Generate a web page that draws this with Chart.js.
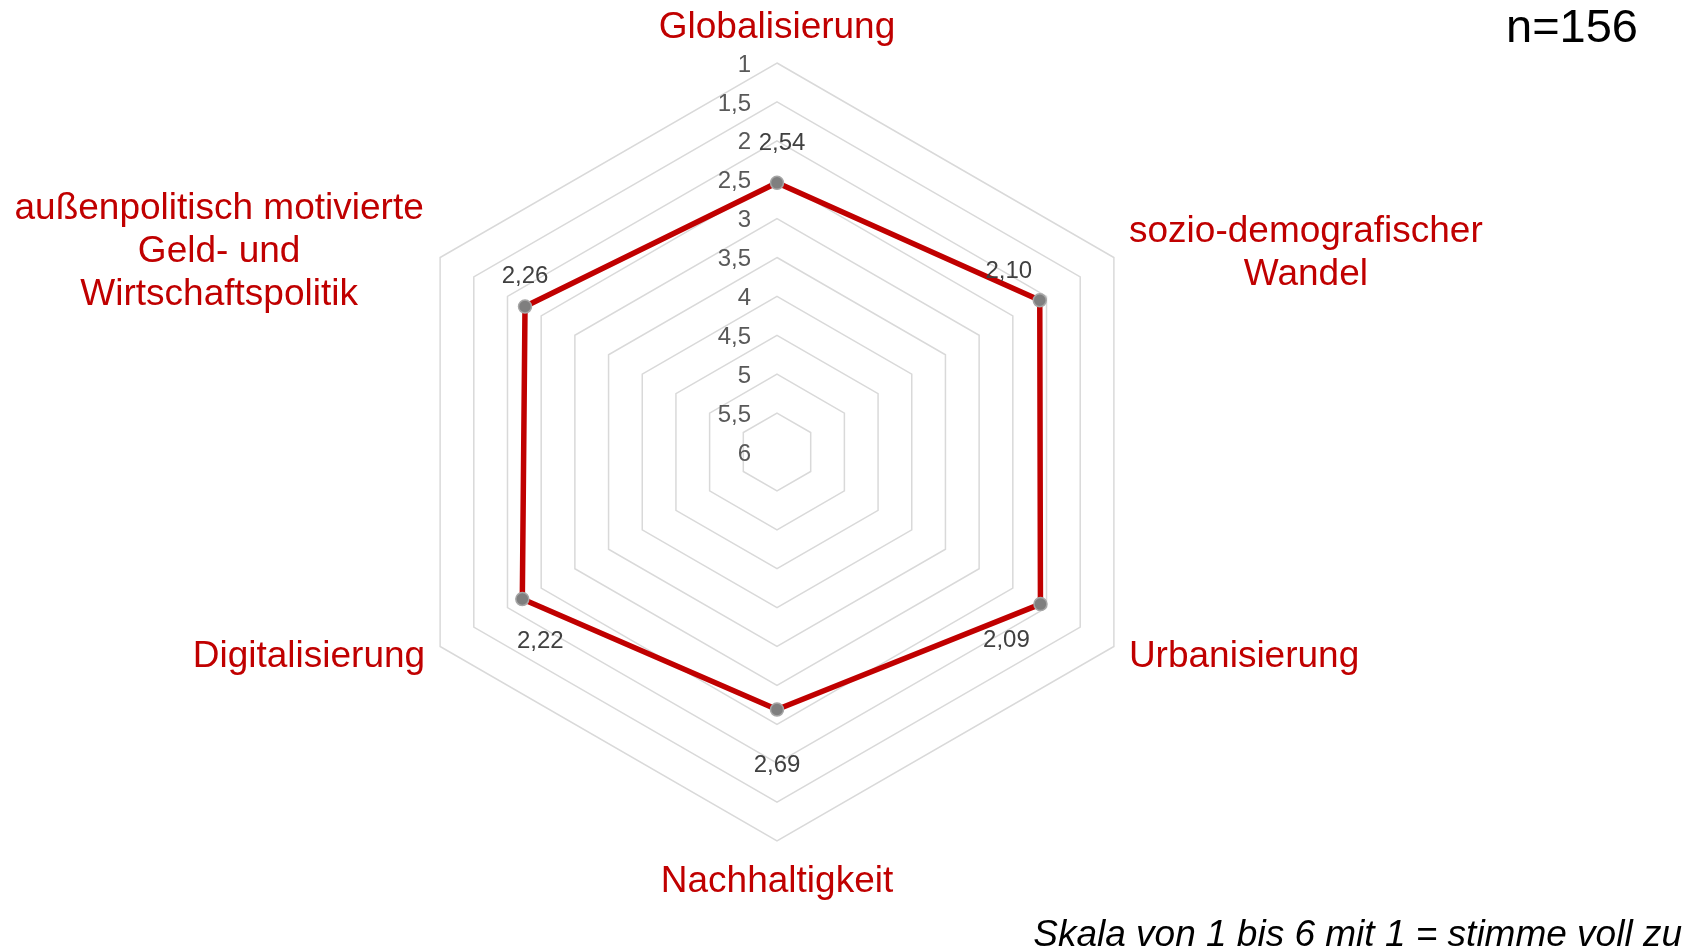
<!DOCTYPE html>
<html lang="de">
<head>
<meta charset="utf-8">
<title>Megatrends</title>
<script src="https://cdn.jsdelivr.net/npm/chart.js@4.4.1/dist/chart.umd.min.js"></script>
<style>
  html, body { margin: 0; padding: 0; background: #fff; }
</style>
</head>
<body>
<canvas id="radarChart" width="1699" height="950"></canvas>
<script>
// Daten
const categories = [
    ['Globalisierung'],
    ['sozio-demografischer', 'Wandel'],
    ['Urbanisierung'],
    ['Nachhaltigkeit'],
    ['Digitalisierung'],
    ['außenpolitisch motivierte', 'Geld- und', 'Wirtschaftspolitik']
];
const values = [2.54, 2.10, 2.09, 2.69, 2.22, 2.26];
const tickValues = [1, 1.5, 2, 2.5, 3, 3.5, 4, 4.5, 5, 5.5, 6];
const sampleNote = 'n=156';
const scaleNote = 'Skala von 1 bis 6 mit 1 = stimme voll zu';

const FONT = '"Liberation Sans", Arial, sans-serif';
const fmt = (v, d) => (d ? v.toFixed(d) : String(v)).replace('.', ',');

// Lage der Achsenbeschriftungen relativ zur äußeren Ecke
const labelPos = [
    { align: 'center', dx: 0,    dy: -25 },
    { align: 'center', dx: 192,  dy: -16 },
    { align: 'left',   dx: 15,   dy: 20 },
    { align: 'center', dx: 0,    dy: 51 },
    { align: 'right',  dx: -15,  dy: 20 },
    { align: 'center', dx: -221, dy: -39 }
];
// Lage der Datenbeschriftungen relativ zum Punkt
const valuePos = [
    { dx: 5,   dy: -39 },
    { dx: -31, dy: -29 },
    { dx: -34, dy: 36 },
    { dx: 0,   dy: 56 },
    { dx: 18,  dy: 42 },
    { dx: 0,   dy: -30 }
];

const radarText = {
    id: 'radarText',
    beforeDatasetsDraw(chart) {
        const r = chart.scales.r;
        const ctx = chart.ctx;
        ctx.save();
        ctx.font = '24px ' + FONT;
        ctx.fillStyle = '#595959';
        ctx.textAlign = 'right';
        ctx.textBaseline = 'middle';
        tickValues.forEach(v => {
            const d = r.getDistanceFromCenterForValue(v);
            ctx.fillText(fmt(v), r.xCenter - 26, r.yCenter - d + 2);
        });
        ctx.restore();
    },
    afterDatasetsDraw(chart) {
        const r = chart.scales.r;
        const ctx = chart.ctx;
        const outer = r.getDistanceFromCenterForValue(1);
        ctx.save();

        // Kategorien
        ctx.font = '37px ' + FONT;
        ctx.fillStyle = '#C00000';
        ctx.textBaseline = 'alphabetic';
        categories.forEach((lines, i) => {
            const p = r.getPointPosition(i, outer);
            const pos = labelPos[i];
            ctx.textAlign = pos.align;
            lines.forEach((line, k) => {
                ctx.fillText(line, p.x + pos.dx, p.y + pos.dy + k * 43);
            });
        });

        // Werte
        ctx.font = '24px ' + FONT;
        ctx.fillStyle = '#404040';
        ctx.textAlign = 'center';
        ctx.textBaseline = 'middle';
        chart.getDatasetMeta(0).data.forEach((pt, i) => {
            ctx.fillText(fmt(values[i], 2), pt.x + valuePos[i].dx, pt.y + valuePos[i].dy);
        });

        // Hinweise
        ctx.fillStyle = '#000';
        ctx.textAlign = 'right';
        ctx.textBaseline = 'alphabetic';
        ctx.font = '47px ' + FONT;
        ctx.fillText(sampleNote, 1638, 42);
        ctx.font = 'italic 37px ' + FONT;
        ctx.fillText(scaleNote, 1682, 946);
        ctx.restore();
    }
};

const ctx = document.getElementById('radarChart').getContext('2d');
const radarChart = new Chart(ctx, {
    type: 'radar',
    data: {
        labels: categories,
        datasets: [{
            data: values,
            borderColor: '#C00000',
            borderWidth: 5.5,
            borderJoinStyle: 'round',
            backgroundColor: 'rgba(0,0,0,0)',
            fill: false,
            pointRadius: 6.5,
            pointBackgroundColor: '#7f7f7f',
            pointBorderColor: '#a6a6a6',
            pointBorderWidth: 1.5
        }]
    },
    options: {
        responsive: false,
        animation: false,
        devicePixelRatio: 1,
        layout: {
            padding: { left: 388, right: 533, top: 63, bottom: 108 }
        },
        scales: {
            r: {
                min: 1,
                max: 6,
                reverse: true,
                afterBuildTicks: scale => {
                    scale.ticks = tickValues.slice().reverse().map(v => ({ value: v }));
                },
                ticks: { display: false, stepSize: 0.5 },
                grid: { color: '#d9d9d9', lineWidth: 1.5 },
                angleLines: { display: false },
                pointLabels: { display: false }
            }
        },
        plugins: {
            legend: { display: false },
            tooltip: { enabled: false }
        }
    },
    plugins: [radarText]
});
</script>
</body>
</html>
